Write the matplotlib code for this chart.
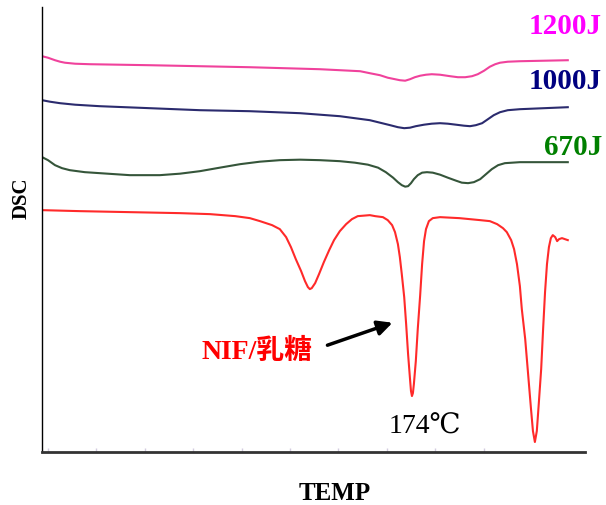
import matplotlib.pyplot as plt

# DSC traces: temperature (degC) and signal (arb. units)
t_nif = [98.8, 106.6, 116.9, 127.3, 133.5, 138.7, 141.7, 143.8, 146.3, 147.9,
         149.2, 150.2, 151.2, 152.3, 153.1, 153.7, 154.1, 154.5, 155.2, 156.0,
         157.0, 158.1, 159.1, 160.3, 161.6, 162.8, 164.0, 166.5, 167.6, 169.2,
         170.2, 171.1, 171.7, 172.3, 172.7, 173.1, 173.6, 174.0, 174.4, 174.8,
         175.0, 175.2, 175.4, 175.6, 176.0, 176.4, 176.9, 177.3, 177.7, 178.1,
         178.7, 179.5, 181.0, 185.0, 189.3, 191.3, 192.8, 194.0, 194.8, 195.7,
         196.3, 196.9, 197.5, 197.9, 198.6, 199.2, 199.8, 200.2, 200.6, 201.0,
         201.4, 201.9, 202.3, 202.7, 203.1, 203.5, 203.9, 204.3, 204.8, 205.2,
         205.6, 206.2, 206.8, 207.4]
y_nif = [24.2, 24.1, 24.0, 23.9, 23.8, 23.6, 23.4, 23.1, 22.7, 22.3,
         21.5, 20.5, 19.3, 18.1, 17.1, 16.5, 16.3, 16.4, 16.9, 17.8,
         19.0, 20.2, 21.2, 22.1, 22.8, 23.3, 23.6, 23.7, 23.6, 23.5,
         23.2, 22.7, 22.0, 20.8, 19.5, 17.8, 15.5, 12.8, 9.8, 7.3,
         6.1, 5.6, 5.9, 6.8, 9.1, 12.3, 15.7, 18.8, 21.1, 22.3,
         23.1, 23.4, 23.5, 23.4, 23.2, 23.1, 22.8, 22.4, 22.0, 21.2,
         20.3, 18.8, 16.6, 14.3, 11.3, 7.8, 4.3, 2.1, 1.0, 2.1,
         4.8, 8.3, 12.3, 16.0, 18.8, 20.5, 21.4, 21.7, 21.5, 21.1,
         21.3, 21.4, 21.3, 21.2]

t_1200 = [98.8, 100.0, 101.45, 102.5, 103.5, 105.6, 108.7, 121.1, 141.7, 156.2,
          164.5, 166.5, 168.6, 170.2, 171.7, 172.7, 173.8, 174.8, 175.8, 176.9,
          178.1, 179.3, 181.0, 183.1, 184.7, 186.2, 187.6, 188.8, 190.1, 191.3,
          192.4, 193.4, 195.0, 197.5, 207.4]
y_1200 = [39.6, 39.45, 39.2, 39.05, 38.95, 38.85, 38.8, 38.7, 38.5, 38.3,
          38.1, 37.9, 37.7, 37.45, 37.3, 37.2, 37.15, 37.3, 37.5, 37.65,
          37.75, 37.8, 37.75, 37.6, 37.5, 37.5, 37.6, 37.8, 38.15, 38.55,
          38.8, 38.95, 39.05, 39.1, 39.2]

t_1000 = [98.8, 100.4, 102.5, 105.6, 110.7, 121.1, 131.4, 141.7, 152.1, 160.3,
          163.4, 166.5, 168.6, 170.7, 172.3, 173.6, 174.8, 176.0, 177.7, 179.3,
          181.0, 182.6, 184.3, 185.95, 187.2, 188.4, 189.7, 190.9, 192.1, 193.4,
          195.0, 197.5, 207.4]
y_1000 = [35.2, 35.05, 34.9, 34.75, 34.6, 34.4, 34.2, 34.1, 33.9, 33.6,
          33.4, 33.2, 32.95, 32.7, 32.5, 32.4, 32.45, 32.6, 32.75, 32.85,
          32.9, 32.85, 32.75, 32.65, 32.6, 32.7, 32.9, 33.3, 33.7, 34.0,
          34.2, 34.3, 34.5]

t_670 = [98.8, 100.0, 101.45, 102.9, 104.5, 107.6, 110.7, 116.9, 123.1, 127.3,
         131.4, 135.5, 139.7, 143.8, 147.9, 152.1, 156.2, 160.3, 163.4, 166.1,
         168.2, 169.8, 171.3, 172.3, 173.1, 173.8, 174.4, 175.0, 175.6, 176.4,
         177.3, 178.3, 179.5, 181.0, 182.6, 184.3, 185.5, 186.8, 188.0, 189.3,
         190.5, 191.7, 193.0, 194.4, 197.5, 207.4]
y_670 = [29.5, 29.2, 28.7, 28.4, 28.2, 28.0, 27.9, 27.7, 27.7, 27.85,
         28.1, 28.45, 28.8, 29.05, 29.2, 29.25, 29.2, 29.1, 28.95, 28.75,
         28.45, 28.0, 27.45, 27.0, 26.7, 26.55, 26.6, 26.9, 27.3, 27.7,
         27.95, 28.0, 27.95, 27.75, 27.45, 27.15, 26.95, 26.9, 27.0, 27.3,
         27.8, 28.3, 28.7, 28.9, 29.0, 29.0]

ticks = [100, 110, 120, 130, 140, 150, 160, 170, 180, 190]

serif = ['Liberation Serif', 'DejaVu Serif', 'Noto Sans CJK JP']

fig = plt.figure(figsize=(6.06, 5.06), dpi=100)
ax = fig.add_axes((0.0693, 0.1047, 0.896, 0.879))

line_kw = dict(lw=1.5, solid_joinstyle='round')
ax.plot(t_1200, y_1200, color='#f0429c', **line_kw)
ax.plot(t_1000, y_1000, color='#2b2b6e', **line_kw)
ax.plot(t_670, y_670, color='#35553a', **line_kw)
ax.plot(t_nif, y_nif, color='#ff2a2a', **line_kw)

ax.set_xlim(98.76, 210.95)
ax.set_ylim(0, 44.5)
ax.spines['top'].set_visible(False)
ax.spines['right'].set_visible(False)
ax.spines['left'].set_linewidth(1.0)
ax.spines['bottom'].set_linewidth(2.0)
ax.spines['bottom'].set_color('#333333')
ax.set_xticks(ticks)
ax.set_xticklabels([])
ax.set_yticks([])
ax.tick_params(axis='x', direction='in', length=3, width=1, color='#d4cce0')

fig.text(0.993, 0.947, '1200J', color='#ff00ff', fontsize=21, fontweight='bold',
         family=serif, ha='right', va='center')
fig.text(0.993, 0.838, '1000J', color='#000080', fontsize=21, fontweight='bold',
         family=serif, ha='right', va='center')
fig.text(0.993, 0.709, '670J', color='#008000', fontsize=21, fontweight='bold',
         family=serif, ha='right', va='center')

fig.text(0.515, 0.304, 'NIF/乳糖', color='#ff0000', fontsize=20,
         fontweight='bold', family=serif, ha='right', va='center')
fig.text(0.701, 0.156, '174℃', color='black', fontsize=20,
         family=serif, ha='center', va='center')

ax.annotate('', xy=(0.652, 0.362), xycoords='figure fraction',
            xytext=(0.536, 0.314), textcoords='figure fraction',
            arrowprops=dict(arrowstyle='-|>', color='black', lw=2.5,
                            mutation_scale=22))

fig.text(0.035, 0.609, 'DSC', rotation=90, fontsize=15, fontweight='bold',
         family=serif, ha='center', va='center')
fig.text(0.553, 0.024, 'TEMP', fontsize=18, fontweight='bold',
         family=serif, ha='center', va='center')

fig.savefig('out.png', dpi=100)
